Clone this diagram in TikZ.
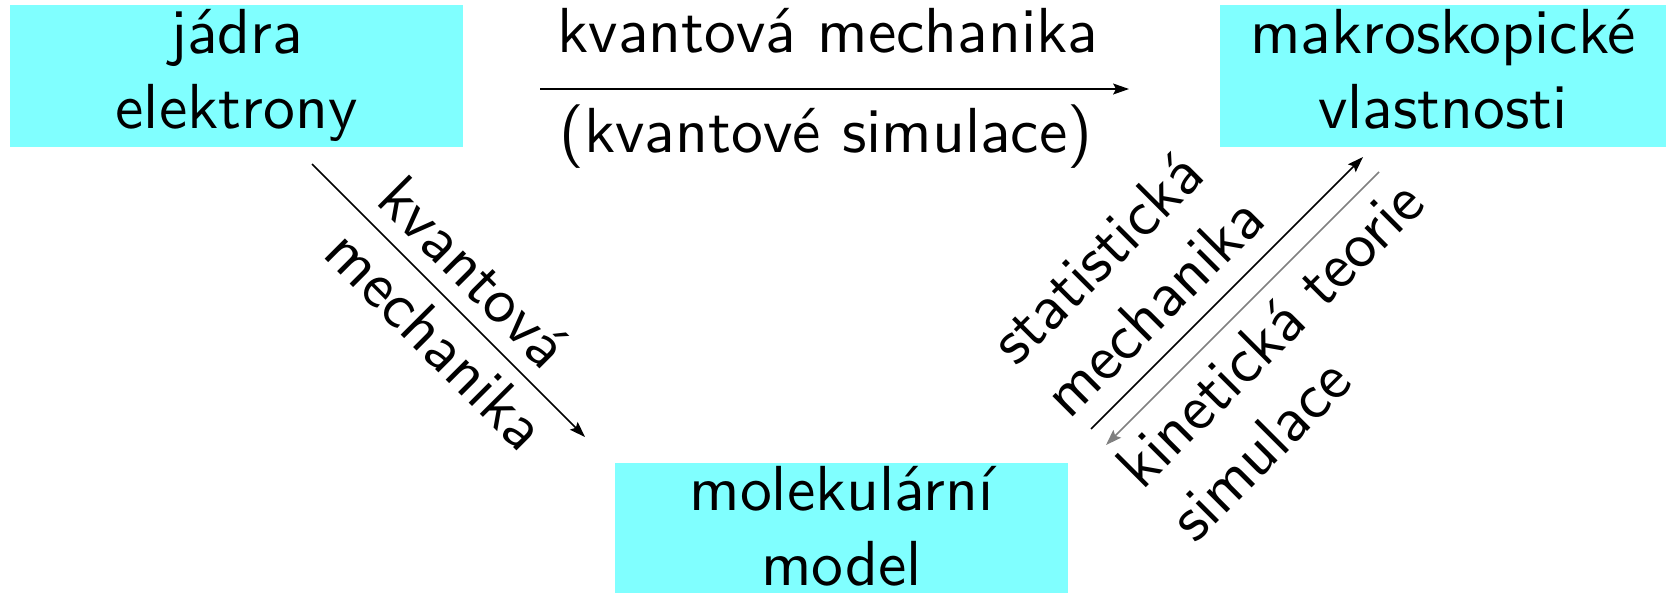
\documentclass[tikz,border=0pt]{standalone}
\usepackage{fontspec}
\setsansfont{lmsans10-regular.otf}
\usetikzlibrary{arrows.meta}
\definecolor{boxcyan}{RGB}{128,255,255}
\definecolor{linegray}{RGB}{128,128,128}
\newcommand\topstrut{\rule{0pt}{0.75em}}
\newcommand\botstrut[1]{\rule[-#1]{0pt}{#1}}
\begin{document}
\begin{tikzpicture}[x=0.01cm,y=-0.01cm,
  font=\sffamily\fontsize{18.1}{21.3}\selectfont,
  box/.style={fill=boxcyan, inner sep=0pt, align=center},
  lbl/.style={inner sep=0pt},
  arr/.style={-{Stealth[length=4.5pt,width=3.1pt,inset=0.8pt]}, line width=0.45pt}]
\useasboundingbox (0,0) rectangle (1670,593);
% boxes
\node[box, minimum width=4.53cm, minimum height=1.40cm] (jadra) at (236.5,76)
  {\topstrut jádra\\elektrony\botstrut{0.29em}};
\node[box, minimum width=4.46cm, minimum height=1.40cm] (makro) at (1443,76)
  {\topstrut makroskopické\\vlastnosti\botstrut{0.29em}};
\node[box, minimum width=4.53cm, minimum height=1.30cm] (mol) at (841.5,528)
  {\topstrut molekulární\\model\botstrut{0.13em}};
% connector end points
\coordinate (ta) at (540,89);
\coordinate (tb) at (1129,89);
\coordinate (la) at (312,164);
\coordinate (lb) at (585,437);
\coordinate (ra) at (1091,429);
\coordinate (rb) at (1363,157);
\coordinate (ga) at (1379,172);
\coordinate (gb) at (1106,445);
% connectors
\draw[arr] (ta) -- (tb);
\draw[arr] (la) -- (lb);
\draw[arr] (ra) -- (rb);
\draw[arr, linegray] (ga) -- (gb);
% labels
\node[lbl, anchor=base] (tl1) at (828,52) {kvantová mechanika};
\node[lbl, anchor=base] (tl2) at (826,152) {(kvantové simulace)};
\node[lbl, align=left, rotate=-45] (ll) at (457.7,318.1)
  {\topstrut kvantová\\mechanika\botstrut{0.29em}};
\node[lbl, align=left, rotate=45] (rl) at (1132,284.8)
  {\topstrut statistická\\mechanika\botstrut{0.29em}};
\node[lbl, align=left, rotate=45] (gl) at (1300.8,364.8)
  {\topstrut kinetická teorie\\simulace\botstrut{0.29em}};
\end{tikzpicture}
\end{document}
